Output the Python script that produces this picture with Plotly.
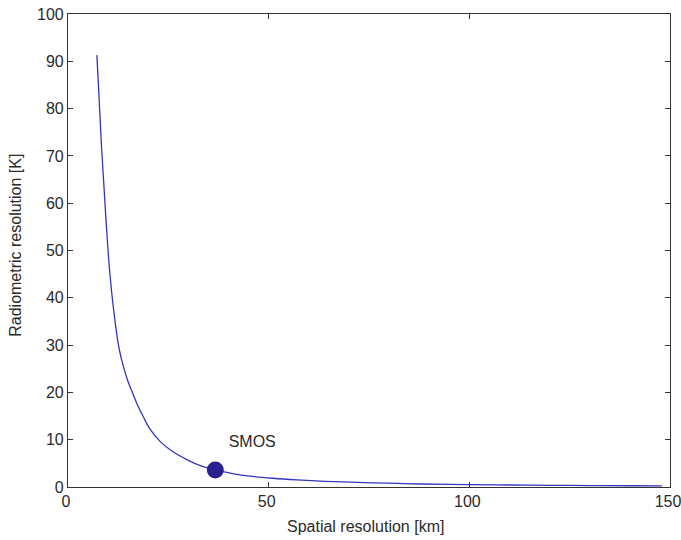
import plotly.graph_objects as go

# Curve values
spatial_km = [7.2, 8.4, 9.5, 10.5, 12.0, 12.8, 13.8, 15.0, 15.9, 17.5, 18.8, 20.4, 23.0, 25.9, 29.6,
              33.0, 36.7, 41.0, 45.4, 51.0, 57.0, 64.0, 70.3, 80.0, 88.5, 100.0, 110.0, 120.0,
              130.0, 140.0, 148.0]
radiometric_k = [91.3, 71.2, 56.0, 44.5, 33.2, 29.0, 25.5, 22.2, 20.3, 17.0, 14.8, 12.3, 9.6, 7.6, 5.8,
                 4.5, 3.6, 2.85, 2.3, 1.85, 1.5, 1.2, 1.02, 0.8, 0.63, 0.5, 0.42, 0.35,
                 0.3, 0.26, 0.22]

smos_x = [36.7]
smos_y = [3.6]
smos_label = ["SMOS"]
smos_label_pos = [45.9, 9.3]

x_ticks = [0, 50, 100, 150]
y_ticks = [0, 10, 20, 30, 40, 50, 60, 70, 80, 90, 100]

x_title = "Spatial resolution [km]"
y_title = "Radiometric resolution [K]"

FONT = dict(family="Liberation Sans, Arial", size=16, color="#2a2a2a")

fig = go.Figure()
fig.add_trace(go.Scatter(x=spatial_km, y=radiometric_k, mode="lines",
                         line=dict(color="#3535c0", width=1.3, shape="spline", smoothing=1.0),
                         showlegend=False, hoverinfo="skip"))
fig.add_trace(go.Scatter(x=smos_x, y=smos_y, mode="markers",
                         marker=dict(color="#2b2090", size=17, symbol="circle"),
                         showlegend=False, hoverinfo="skip"))
fig.add_trace(go.Scatter(x=[smos_label_pos[0]], y=[smos_label_pos[1]], mode="text",
                         text=smos_label, textfont=FONT, showlegend=False, hoverinfo="skip"))

axis_common = dict(showgrid=False, zeroline=False, showline=True, linecolor="#333333",
                   linewidth=1.2, mirror="ticks", ticks="inside", ticklen=5,
                   tickcolor="#333333", tickwidth=1, automargin=False, tickfont=FONT,
                   ticklabeloverflow="allow")

fig.update_xaxes(range=[0, 150], tickvals=x_ticks, ticklabelshift=-2, **axis_common)
fig.update_yaxes(range=[0, 100], tickvals=y_ticks, **axis_common)

fig.add_annotation(text=x_title, xref="paper", yref="paper", x=0.495, y=0,
                   xanchor="center", yanchor="middle", yshift=-39, showarrow=False, font=FONT)
fig.add_annotation(text=y_title, xref="paper", yref="paper", x=0, y=0.51,
                   xanchor="center", yanchor="middle", xshift=-52, textangle=-90,
                   showarrow=False, font=FONT)

fig.update_layout(width=681, height=540, paper_bgcolor="white", plot_bgcolor="white",
                  margin=dict(l=68, r=11, t=14, b=53), hovermode=False)

# remove the page's default body margin so the figure fills the window exactly
fig.write_html("out.html", config={"displayModeBar": False},
               post_script="document.body.style.margin='0';document.body.style.overflow='hidden';")
